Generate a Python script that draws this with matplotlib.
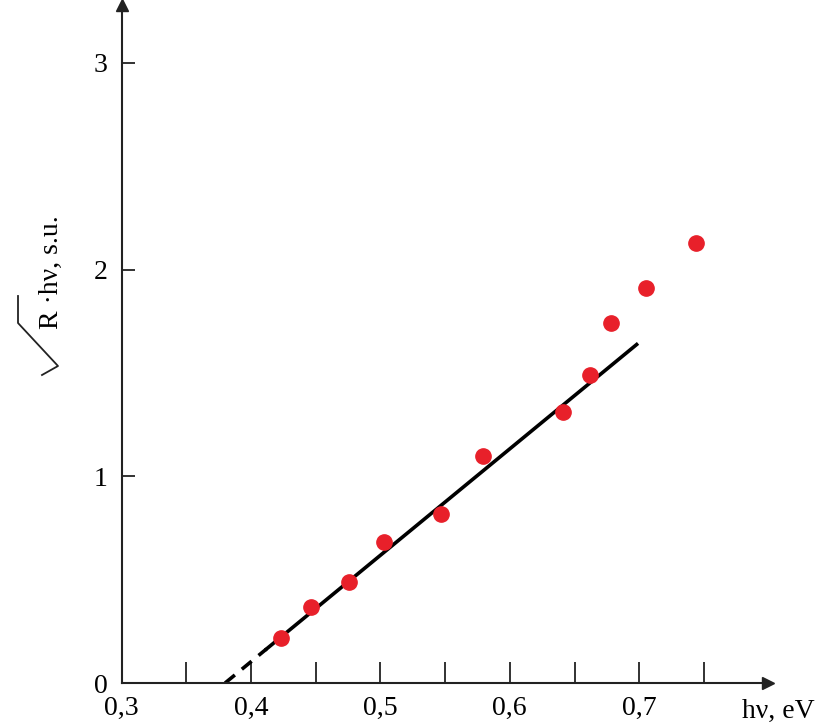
import matplotlib.pyplot as plt
from matplotlib.lines import Line2D
import numpy as np

plt.rcParams['font.family'] = ['Liberation Serif', 'DejaVu Serif']

# точки (hv, eV ; sqrt(R)*hv, s.u.)
hv = [0.423, 0.446, 0.476, 0.503, 0.547, 0.579, 0.641, 0.662, 0.678, 0.705, 0.744]
val = [0.22, 0.37, 0.49, 0.68, 0.82, 1.10, 1.31, 1.49, 1.74, 1.91, 2.13]

# линейная аппроксимация
fit_x0 = 0.380      # пересечение с осью
fit_slope = 5.15
solid_from = 0.412
solid_to = 0.698

xticks = [0.30, 0.35, 0.40, 0.45, 0.50, 0.55, 0.60, 0.65, 0.70, 0.75]
xlabels = ['0,3', '', '0,4', '', '0,5', '', '0,6', '', '0,7', '']
yticks = [0, 1, 2, 3]

W, H = 817, 728
fig = plt.figure(figsize=(W / 100, H / 100), dpi=100)
ax = fig.add_axes([0.1488, 0.0618, 0.94 - 0.1488, 0.993 - 0.0618])
ax.set_xlim(0.3, 0.7995)
ax.set_ylim(0, 3.28)

for s in ['top', 'right']:
    ax.spines[s].set_visible(False)
for s in ['left', 'bottom']:
    ax.spines[s].set_linewidth(1.5)
    ax.spines[s].set_color('#222222')

# стрелки осей
ax.plot(1, 0, '>', color='#222222', ms=9, transform=ax.transAxes, clip_on=False)
ax.plot(0, 1, '^', color='#222222', ms=9, transform=ax.transAxes, clip_on=False)

ax.set_xticks(xticks)
ax.set_xticklabels(xlabels)
ax.set_yticks(yticks)
ax.tick_params(axis='x', direction='in', length=15, width=1.3, pad=9,
               labelsize=20, color='#222222')
ax.tick_params(axis='y', direction='in', length=9, width=1.3, pad=10,
               labelsize=20, color='#222222')

# прямая: пунктир до оси и сплошная часть
xd = np.array([fit_x0, solid_from])
ax.plot(xd, fit_slope * (xd - fit_x0), color='black', lw=2.6, ls=(0, (3.5, 2.5)))
xs = np.array([solid_from, solid_to])
ax.plot(xs, fit_slope * (xs - fit_x0), color='black', lw=2.6)

ax.plot(hv, val, 'o', color='#e8202a', ms=11, zorder=5)

fig.text(815 / W, 1 - 711 / H, 'hν, eV', fontsize=20, ha='right', va='center')

# подпись оси y: знак корня рисуем линиями
fig.text(51 / W, 1 - 329 / H, 'R ·hν, s.u.', rotation=90, fontsize=20,
         ha='center', va='bottom')
px = np.array([42, 58, 18, 18])
py = np.array([375, 366, 323, 296])
fig.add_artist(Line2D(px / W, 1 - py / H, color='#222222', lw=1.3))

fig.savefig('out.png', dpi=100)
